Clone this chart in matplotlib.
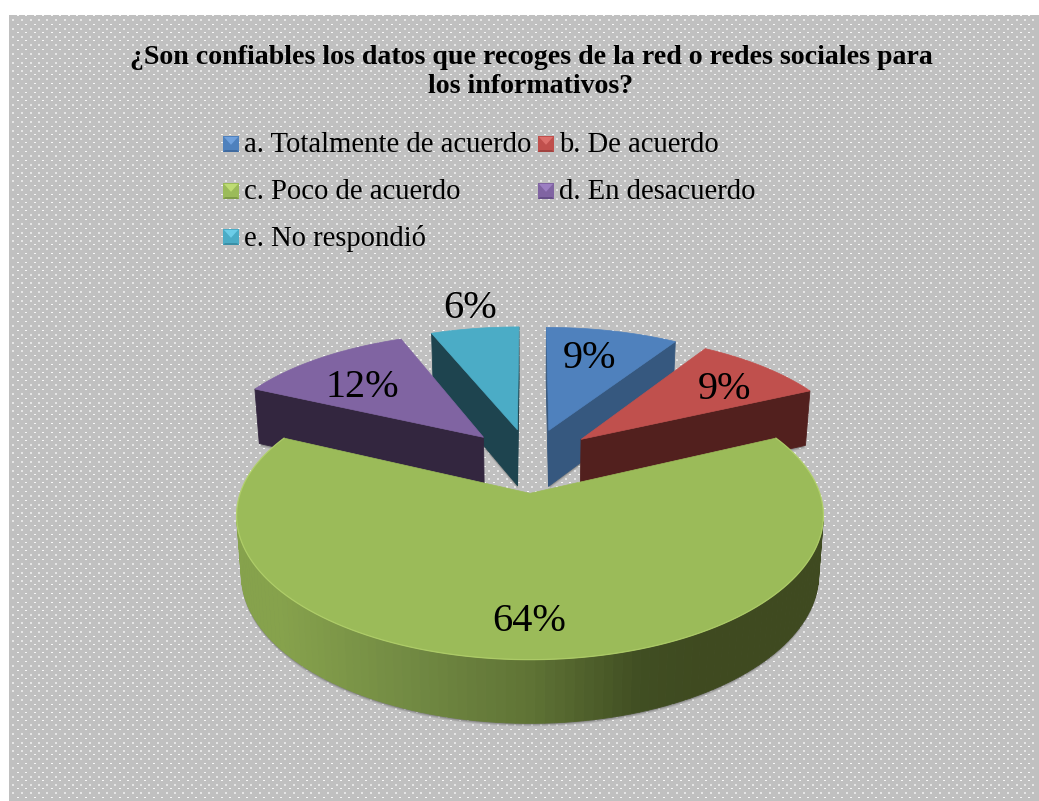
import numpy as np
import matplotlib
matplotlib.use('Agg')
import matplotlib.pyplot as plt
from matplotlib.patches import Polygon

title = '¿Son confiables los datos que recoges de la red o redes sociales para\nlos informativos?'
categories = ['a. Totalmente de acuerdo', 'b. De acuerdo', 'c. Poco de acuerdo', 'd. En desacuerdo', 'e. No respondió']
values = [9, 9, 64, 12, 6]
top_colors = ['#4f81bd', '#c0504d', '#9bbb59', '#8064a2', '#4bacc6']
side_colors = ['#36587f', '#52201e', '#3f4a20', '#33263f', '#1e444f']
light_colors = ['#6fa0dc', '#dc6f6b', '#bedc74', '#9c7fc2', '#6ccde8']
dark_colors = ['#3f6a9f', '#a04340', '#7f9c47', '#674f88', '#3a8fa6']
label_radius = [0.72, 0.80, 0.83, 0.68, 1.17]
label_shift = [(-7, 2), (-5, 10), (-1, -5), (-6, 6), (2, -5)]
draw_order = [4, 0, 3, 1, 2]

W, H = 1039, 801
cx, cy = 530, 460
R, B = 279, 128
kx, ky = 0.15, 0.159
explode = 0.25
depth = 57
taper = 0.00028

plt.rcParams['font.family'] = ['Liberation Serif', 'DejaVu Serif']

fig = plt.figure(figsize=(W / 100, H / 100), dpi=100)
ax = fig.add_axes([0, 0, 1, 1])
ax.set_xlim(0, W)
ax.set_ylim(H, 0)
ax.axis('off')

# dotted gray background
bg = np.ones((H, W, 3))
bg[15:, 9:] = 0.753
for j in range(0, 100):
    for i in range(0, 125):
        x = int(round(12.5 + 8.5 * i))
        y = int(round(19 + 8.5 * j))
        if x + 2 < W and y + 2 < H:
            bg[y:y + 2, x:x + 2] = 0.9
        x2 = int(round(16.7 + 8.5 * i))
        y2 = int(round(15 + 8.5 * j))
        if x2 + 2 < W and y2 + 1 < H:
            bg[y2:y2 + 1, x2:x2 + 2] = 0.97
ax.imshow(bg, extent=(0, W, H, 0), aspect='auto', interpolation='nearest', zorder=0)


def project(u, v, h=0.0):
    sx = 1 / (1 + kx * v)
    sy = 1 / (1 + ky * v)
    return cx + R * u * sx * (1 - taper * h), cy - B * v * sy + h * sy ** 0.5


def area(p):
    p = np.array(p)
    x, y = p[:, 0], p[:, 1]
    return 0.5 * np.sum(x * np.roll(y, -1) - np.roll(x, -1) * y)


fractions = np.array(values) / sum(values)
starts = np.concatenate([[0], np.cumsum(fractions)[:-1]]) * 2 * np.pi
ends = np.cumsum(fractions) * 2 * np.pi


def wall_color(x):
    stops = [280, 420, 530, 640, 700]
    reds = [0x86, 0x70, 0x5f, 0x40, 0x3f]
    greens = [0xa2, 0x88, 0x73, 0x4e, 0x4a]
    blues = [0x4c, 0x42, 0x35, 0x22, 0x20]
    return (np.interp(x, stops, reds) / 255, np.interp(x, stops, greens) / 255, np.interp(x, stops, blues) / 255)


z = 2
for idx in draw_order:
    mid = (starts[idx] + ends[idx]) / 2
    ou, ov = explode * np.sin(mid), explode * np.cos(mid)
    th = np.linspace(starts[idx], ends[idx], 140)
    us = ou + np.sin(th)
    vs = ov + np.cos(th)
    rim = [project(a, b) for a, b in zip(us, vs)]
    apex = project(ou, ov)
    outline = [apex] + rim

    # soft shadow under the solid
    low = [project(a, b, depth) for a, b in zip(us, vs)] + [project(ou, ov, depth)]
    for off, al in [(3, 0.12), (2, 0.18), (1, 0.25)]:
        ax.add_patch(Polygon([(p[0], p[1] + off) for p in low], closed=True, fc='#404040', ec='none', alpha=al, zorder=z))
    z += 1

    # walls: only the faces looking at the viewer
    pts_u = np.concatenate([[ou], us])
    pts_v = np.concatenate([[ov], vs])
    n = len(pts_u)
    for i in range(n):
        j = (i + 1) % n
        quad = [project(pts_u[i], pts_v[i]), project(pts_u[j], pts_v[j]),
                project(pts_u[j], pts_v[j], depth), project(pts_u[i], pts_v[i], depth)]
        if area(quad) < 0:
            color = wall_color((quad[0][0] + quad[1][0]) / 2) if idx == 2 else side_colors[idx]
            ax.add_patch(Polygon(quad, closed=True, fc=color, ec=color, lw=0.6, zorder=z))
    z += 1

    ax.add_patch(Polygon(outline, closed=True, fc=top_colors[idx], ec=top_colors[idx], lw=0.5, zorder=z))
    if idx == 2:
        rx, ry = zip(*rim)
        ax.plot(rx, ry, color=light_colors[idx], lw=0.9, alpha=0.6, zorder=z + 1)
    z += 2

    # percentage label
    lu = ou + label_radius[idx] * np.sin(mid)
    lv = ov + label_radius[idx] * np.cos(mid)
    lx, ly = project(lu, lv)
    ax.text(lx + label_shift[idx][0], ly + label_shift[idx][1], f'{values[idx]}%', fontsize=29,
            color='black', ha='center', va='center', zorder=50)

ax.text(531, 72, title, fontsize=20.1, fontweight='bold', color='black', ha='center', va='center',
        linespacing=1.25, zorder=50)

# legend with bevelled keys
key_x = [223, 538, 223, 538, 223]
key_y = [136, 136, 183, 183, 229]
for i, name in enumerate(categories):
    x0, y0 = key_x[i], key_y[i]
    s = 16
    c = (x0 + s / 2, y0 + s * 0.55)
    ax.add_patch(Polygon([(x0, y0), (x0 + s, y0), (x0 + s, y0 + s), (x0, y0 + s)], fc=top_colors[i], ec='none', zorder=40))
    ax.add_patch(Polygon([(x0 + 1, y0 + 1), (x0 + s - 1, y0 + 1), c], fc=light_colors[i], ec='none', zorder=41))
    ax.add_patch(Polygon([(x0, y0 + s), (x0 + s, y0 + s), (x0 + s - 2, y0 + s - 2), (x0 + 2, y0 + s - 2)],
                         fc=dark_colors[i], ec='none', zorder=41))
    ax.text(x0 + 21, y0 + 9, name, fontsize=20.6, color='black', ha='left', va='center', zorder=50)

fig.savefig('out.png', dpi=100)
